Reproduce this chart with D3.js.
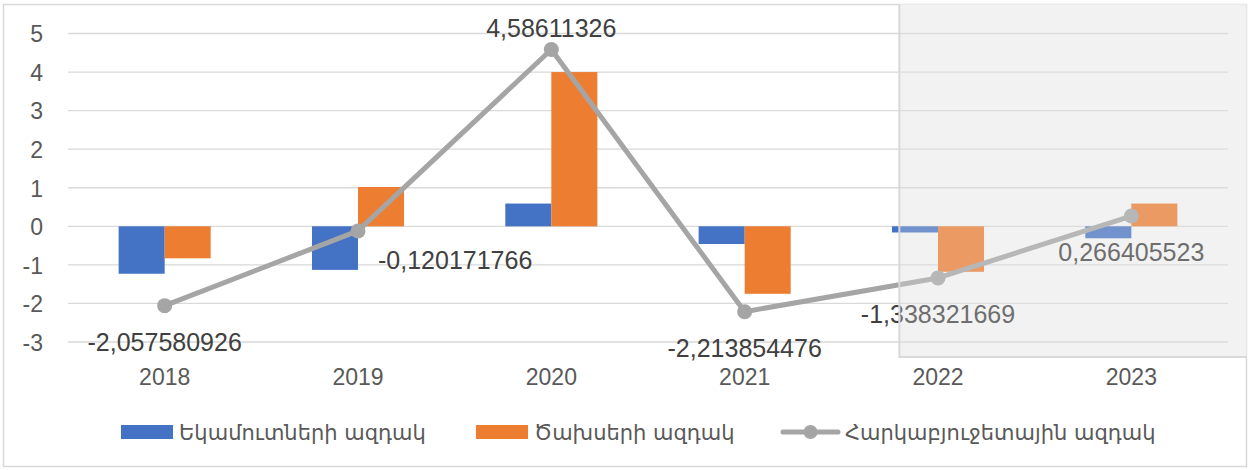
<!DOCTYPE html>
<html>
<head>
<meta charset="utf-8">
<script src="https://cdn.jsdelivr.net/npm/d3@7"></script>
<style>
  html, body { margin: 0; padding: 0; background: #ffffff; }
  svg { display: block; }
  .num { font-family: "Liberation Sans", "Noto Sans", sans-serif; }
  .leg { font-family: "DejaVu Sans", "Noto Sans", sans-serif; }
</style>
</head>
<body>
<svg id="chart" width="1250" height="470"></svg>
<script>
// ---------- data ----------
const categories = ["2018", "2019", "2020", "2021", "2022", "2023"];
const revenueImpulse = [-1.23, -1.13, 0.59, -0.46, -0.16, -0.31];
const expenditureImpulse = [-0.83, 1.02, 4.00, -1.75, -1.18, 0.59];
const fiscalImpulse = [-2.057580926, -0.120171766, 4.58611326, -2.213854476, -1.338321669, 0.266405523];
const yTicks = [-3, -2, -1, 0, 1, 2, 3, 4, 5];
const seriesNames = ["Եկամուտների ազդակ", "Ծախսերի ազդակ", "Հարկաբյուջետային ազդակ"];
const labelPlacement = ["below", "right", "above", "below", "below", "below"];
const shadedFrom = "2022";

// ---------- layout ----------
const W = 1250, H = 470;
const plot = { left: 68, right: 1228, top: 33.5, bottom: 342 };
const colors = { rev: "#4472C4", exp: "#ED7D31", fis: "#A5A5A5", grid: "#d9d9d9", tick: "#595959", label: "#404040" };

const svg = d3.select("#chart");

const x = d3.scaleBand().domain(categories).range([plot.left, plot.right]).paddingInner(0).paddingOuter(0);
const xs = d3.scaleBand().domain(["rev", "exp"]).range([0, x.bandwidth()]).paddingInner(0).paddingOuter(1.1);
const y = d3.scaleLinear().domain([-3, 5]).range([plot.bottom, plot.top]);

// shaded region geometry derived from scales
const shadeX = x(shadedFrom) + x.step() * 0.3;
const shadeBottom = y(-3) + 15;

// outer border
svg.append("rect").attr("x", 3.5).attr("y", 4.5).attr("width", W - 7).attr("height", H - 8)
  .attr("fill", "#ffffff").attr("stroke", colors.grid).attr("stroke-width", 1.5);

// shaded background (under marks)
svg.append("rect").attr("x", shadeX).attr("y", 4.5).attr("width", W - 3.5 - shadeX).attr("height", shadeBottom - 4.5)
  .attr("fill", "#f7f7f7");

// gridlines + y axis labels
const yAxis = d3.axisLeft(y).tickValues(yTicks).tickFormat(d => String(d)).tickSize(0).tickPadding(0);
const gy = svg.append("g").attr("transform", `translate(${plot.left - 25},0)`).call(yAxis);
gy.select(".domain").remove();
gy.selectAll("text").attr("class", "num").attr("fill", colors.tick).style("font-size", "23px").attr("dy", "0.36em");

svg.append("g").selectAll("line").data(yTicks).join("line")
  .attr("x1", plot.left).attr("x2", plot.right)
  .attr("y1", d => y(d)).attr("y2", d => y(d))
  .attr("stroke", colors.grid).attr("stroke-width", 1.3);

// x axis labels
const xAxis = d3.axisBottom(x).tickSize(0).tickPadding(0);
const gx = svg.append("g").attr("transform", `translate(0,${plot.bottom + 43})`).call(xAxis);
gx.select(".domain").remove();
gx.selectAll("text").attr("class", "num").attr("fill", colors.tick).style("font-size", "23px").attr("dy", 0);

// bars
const barData = categories.map((c, i) => ({ c, rev: revenueImpulse[i], exp: expenditureImpulse[i] }));
const gBars = svg.append("g");
["rev", "exp"].forEach(key => {
  gBars.selectAll(`rect.${key}`).data(barData).join("rect").attr("class", key)
    .attr("x", d => x(d.c) + xs(key))
    .attr("width", xs.bandwidth())
    .attr("y", d => y(Math.max(0, d[key])))
    .attr("height", d => Math.abs(y(d[key]) - y(0)))
    .attr("fill", colors[key]);
});

// line
const lineData = categories.map((c, i) => ({ c, v: fiscalImpulse[i], pos: labelPlacement[i] }));
const cx = d => x(d.c) + x.bandwidth() / 2;
svg.append("path").datum(lineData)
  .attr("d", d3.line().x(cx).y(d => y(d.v)))
  .attr("fill", "none").attr("stroke", colors.fis).attr("stroke-width", 5).attr("stroke-linejoin", "round");
svg.append("g").selectAll("circle").data(lineData).join("circle")
  .attr("cx", cx).attr("cy", d => y(d.v)).attr("r", 7.5).attr("fill", colors.fis);

// data labels
const place = {
  below: { dx: 0, dy: 45, anchor: "middle" },
  above: { dx: 0, dy: -12, anchor: "middle" },
  right: { dx: 20, dy: 38, anchor: "start" }
};
svg.append("g").selectAll("text").data(lineData).join("text")
  .attr("class", "num")
  .attr("x", d => cx(d) + place[d.pos].dx)
  .attr("y", d => y(d.v) + place[d.pos].dy)
  .attr("text-anchor", d => place[d.pos].anchor)
  .attr("fill", colors.label).style("font-size", "25px")
  .text(d => String(d.v).replace(".", ","));

// overlay for shaded region
svg.append("rect").attr("x", shadeX).attr("y", 4.5).attr("width", W - 3.5 - shadeX).attr("height", shadeBottom - 4.5)
  .attr("fill", "rgba(230,230,230,0.28)");
svg.append("path")
  .attr("d", `M${shadeX},4.5V${shadeBottom}H${W - 3.5}`)
  .attr("fill", "none").attr("stroke", colors.grid).attr("stroke-width", 2);

// legend
const legY = 432;
const leg = svg.append("g");
const legItems = [
  { name: seriesNames[0], type: "rect", color: colors.rev, x: 121 },
  { name: seriesNames[1], type: "rect", color: colors.exp, x: 476 },
  { name: seriesNames[2], type: "line", color: colors.fis, x: 783 }
];
legItems.forEach(it => {
  if (it.type === "rect") {
    leg.append("rect").attr("x", it.x).attr("y", legY - 7).attr("width", 52).attr("height", 14).attr("fill", it.color);
  } else {
    leg.append("line").attr("x1", it.x).attr("x2", it.x + 55).attr("y1", legY).attr("y2", legY)
      .attr("stroke", it.color).attr("stroke-width", 5).attr("stroke-linecap", "round");
    leg.append("circle").attr("cx", it.x + 27.5).attr("cy", legY).attr("r", 7).attr("fill", it.color);
  }
  leg.append("text").attr("class", "leg")
    .attr("x", it.x + (it.type === "rect" ? 58 : 62)).attr("y", legY + 8)
    .attr("fill", colors.tick).style("font-size", "21px")
    .text(it.name);
});
</script>
</body>
</html>
